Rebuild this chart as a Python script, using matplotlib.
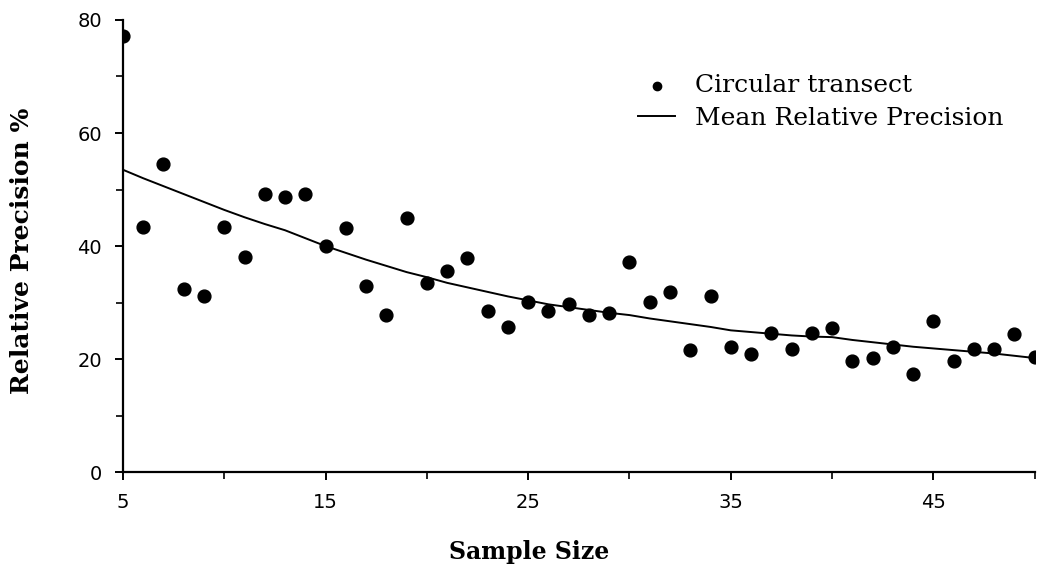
import numpy as np
import matplotlib
matplotlib.use("Agg")
from matplotlib import pyplot as plt
from matplotlib.ticker import MultipleLocator

# sample sizes and observed relative precision (circular transect)
sample_size = list(range(5, 51))
rel_precision = [
    77.2, 43.4, 54.5, 32.4, 31.2, 43.4, 38.1, 49.2, 48.7, 49.2,
    40.0, 43.2, 32.9, 27.8, 45.0, 33.5, 35.6, 37.9, 28.5, 25.7,
    30.1, 28.5, 29.7, 27.8, 28.1, 37.2, 30.1, 31.9, 21.6, 31.2,
    22.1, 20.9, 24.6, 21.8, 24.6, 25.5, 19.6, 20.2, 22.1, 17.3,
    26.7, 19.6, 21.8, 21.8, 24.4, 20.3,
]
# mean relative precision curve
mean_precision = [
    53.5, 52.0, 50.6, 49.2, 47.8, 46.4, 45.1, 43.9, 42.8, 41.4,
    40.0, 38.8, 37.6, 36.5, 35.4, 34.5, 33.5, 32.7, 31.9, 31.1,
    30.4, 29.7, 29.2, 28.7, 28.2, 27.8, 27.2, 26.7, 26.2, 25.7,
    25.1, 24.8, 24.5, 24.2, 24.0, 23.9, 23.4, 23.0, 22.6, 22.2,
    21.9, 21.6, 21.3, 21.0, 20.6, 20.2,
]
x_ticks = [5, 15, 25, 35, 45]
y_ticks = [0, 20, 40, 60, 80]

fig = plt.figure(figsize=(10.42, 5.69), dpi=100)
ax = fig.add_axes([0.118, 0.170, 0.875, 0.795])

ax.scatter(sample_size, rel_precision, s=85, c="black", zorder=3,
           label="Circular transect")
ax.plot(sample_size, mean_precision, color="black", lw=1.4,
        label="Mean Relative Precision")

ax.set_xlim(5, 50)
ax.set_ylim(0, 80)
ax.set_xticks(x_ticks)
ax.set_yticks(y_ticks)
ax.xaxis.set_minor_locator(MultipleLocator(5))
ax.yaxis.set_minor_locator(MultipleLocator(10))

for side in ("top", "right"):
    ax.spines[side].set_visible(False)
for side in ("left", "bottom"):
    ax.spines[side].set_linewidth(1.6)

ax.tick_params(which="major", direction="out", length=6, width=1.4,
               labelsize=14, pad=9)
ax.tick_params(which="minor", direction="out", length=5, width=1.2)
for lbl in ax.get_xticklabels() + ax.get_yticklabels():
    lbl.set_family("DejaVu Sans")

ax.set_xlabel("Sample Size", family="DejaVu Serif", weight="bold",
              fontsize=17)
ax.xaxis.set_label_coords(0.446, -0.177)
ax.xaxis.label.set_va("center")
ax.set_ylabel("Relative Precision %", family="DejaVu Serif", weight="bold",
              fontsize=18)
ax.yaxis.set_label_coords(-0.111, 0.49)
ax.yaxis.label.set_va("center")

ax.legend(loc="upper left", bbox_to_anchor=(0.54, 0.93), frameon=False,
          prop={"family": "DejaVu Serif", "size": 18},
          handlelength=1.5, handletextpad=0.8, labelspacing=0.4,
          scatterpoints=1, markerscale=0.65)

fig.savefig("out.png", dpi=100)
